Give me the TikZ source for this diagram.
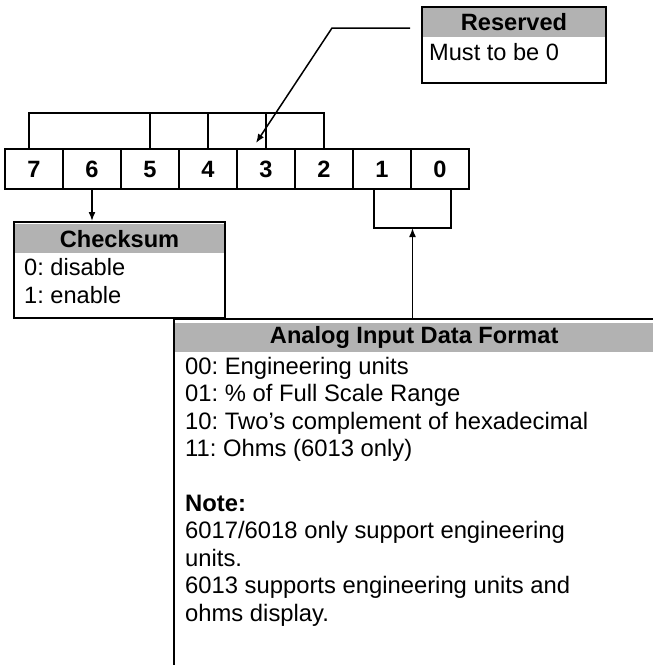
\documentclass[tikz,border=0pt]{standalone}
\usepackage{fontspec}
\setmainfont{Liberation Sans}
\frenchspacing
\usetikzlibrary{positioning}
\usetikzlibrary{arrows.meta}

\begin{document}
\begin{tikzpicture}[x=1pt, y=-1pt,
		bit/.style={
			draw,
			line width=2pt,
			minimum width=58pt,
			minimum height=40pt,
			inner sep=0,
			outer sep=0,
			font=\fontsize{23.6}{28}\selectfont\bfseries,
		},
		infobox/.style={draw, line width=2pt, inner sep=0},
		headbar/.style={fill=black!30, inner sep=0, minimum height=29pt, font=\fontsize{23.6}{28}\selectfont\bfseries},
		txt/.style={inner sep=0, anchor=base west, font=\fontsize{23.6}{28}\selectfont},
		wire/.style={line width=1.5pt},
		pointer/.style={wire, -{Latex[length=9pt, width=7pt]}}]
		\useasboundingbox (0,0) rectangle (653,665);
		
		% the eight bits
		\node[bit] (b7) at (34,169) {7};
		\node[bit, right=0pt of b7] (b6) {6};
		\node[bit, right=0pt of b6] (b5) {5};
		\node[bit, right=0pt of b5] (b4) {4};
		\node[bit, right=0pt of b4] (b3) {3};
		\node[bit, right=0pt of b3] (b2) {2};
		\node[bit, right=0pt of b2] (b1) {1};
		\node[bit, right=0pt of b1] (b0) {0};
		
		% bits 7..2
		\coordinate (topbr) at (0,113);
		\draw[wire] ([xshift=-5pt]b7.north) |- (b2.north |- topbr) -- (b2.north);
		\draw[wire] (b5.north) -- (b5.north |- topbr);
		\draw[wire] (b4.north) -- (b4.north |- topbr);
		\draw[wire] (b3.north) -- (b3.north |- topbr);
		
		% bits 1..0
		\draw[wire] ([xshift=-37pt]b1.south east) --++(0,39) -| ([xshift=40pt]b1.south east);
		\coordinate (lobr) at ([xshift=1.5pt, yshift=-39pt]b1.south east);
		
		% Reserved
		\node[infobox, minimum width=184pt, minimum height=76pt, anchor=north west] (res) at (421,6) {};
		\node[headbar, minimum width=182pt, anchor=north] (reshead) at ([yshift=-1.5pt]res.north) {Reserved};
		\node[txt] (res0) at (429,60) {Must to be 0};
		\coordinate (resin) at (410,28);
		\draw[pointer] (resin) --++(-78,0) -- ([xshift=-10pt, yshift=6pt]b3.north);
		
		% Checksum
		\node[infobox, minimum width=211pt, minimum height=96pt, anchor=north west] (chk) at (13,221) {};
		\node[headbar, minimum width=209pt, anchor=north] (chkhead) at ([yshift=-3pt]chk.north) {Checksum};
		\node[txt] (chk0) at (24,275.5) {0: disable};
		\node[txt] (chk1) at (24,303.5) {1: enable};
		\draw[pointer] (b6.south) -- (chk.north -| b6.south);
		
		% Analog Input Data Format
		\coordinate (fmt) at (174,319);
		\draw[line width=2pt] (653,319) -- (fmt) -- (174,665);
		\node[headbar, minimum width=478pt, anchor=north west] (fmthead) at (175,323) {Analog Input Data Format};
		\node[inner sep=0, anchor=north west, align=left, font=\fontsize{23.8}{27.4}\selectfont] (fmttext) at (185,357) {00: Engineering units\\
			01: \% of Full Scale Range\\
			10: Two’s complement of hexadecimal\\
			11: Ohms (6013 only)\\
			~\\
			\textbf{Note:}\\
			6017/6018 only support engineering\\
			units.\\
			6013 supports engineering units and\\
			ohms display.};
		\draw[pointer] (fmt -| lobr) -- (lobr);
	\end{tikzpicture}
\end{document}
